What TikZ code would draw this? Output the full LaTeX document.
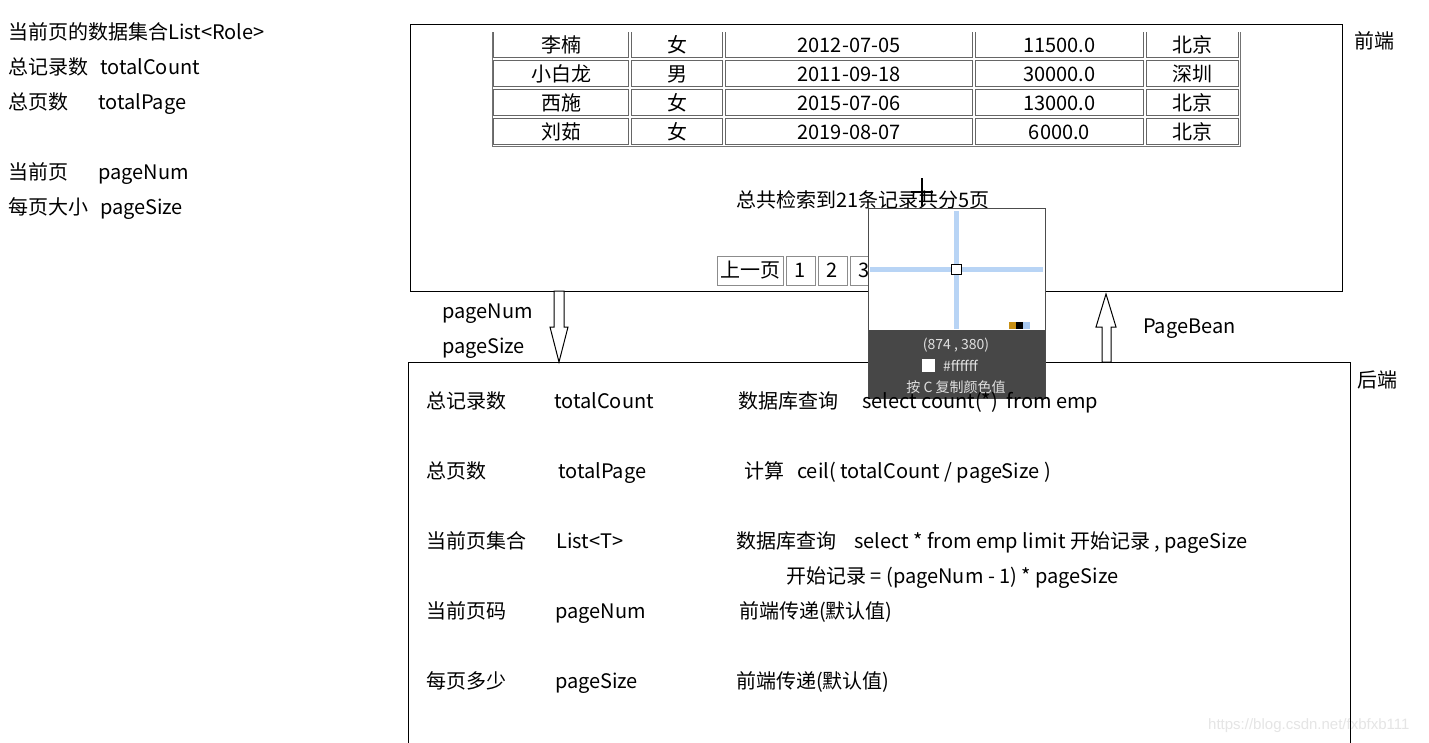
\documentclass[tikz,border=0pt]{standalone}
\usepackage{fontspec}
\newfontfamily\cjk{Noto Sans CJK SC}
\newfontfamily\wmfont{Liberation Sans}
\begin{document}
\begin{tikzpicture}[x=1pt,y=-1pt,
  txt/.style={anchor=base west, inner sep=0pt, font=\cjk\fontsize{20}{22}\selectfont},
  ctxt/.style={anchor=base, inner sep=0pt, font=\cjk\fontsize{20}{22}\selectfont},
  cellbox/.style={draw=black!60, line width=1pt},
  btn/.style={draw=black!45, line width=0.8pt, fill=white},
  blockarrow/.style={draw=black, line width=1pt, fill=white},
  ovtxt/.style={anchor=base, inner sep=0pt, text=black!12, font=\cjk\fontsize{14}{16}\selectfont}]
\useasboundingbox (0,0) rectangle (1429,742);
\clip (0,0) rectangle (1429,742);
\fill[white] (0,0) rectangle (1429,742);

% ---------- left notes ----------
\node[txt] (l1) at (8,39) {当前页的数据集合List<Role>};
\node[txt] (l2a) at (8,74) {总记录数};
\node[txt] (l2b) at (100,74) {totalCount};
\node[txt] (l3a) at (8,109) {总页数};
\node[txt] (l3b) at (98,109) {totalPage};
\node[txt] (l4a) at (8,179) {当前页};
\node[txt] (l4b) at (98,179) {pageNum};
\node[txt] (l5a) at (8,214) {每页大小};
\node[txt] (l5b) at (100,214) {pageSize};

% ---------- front box ----------
\node[draw, line width=1pt, minimum width=932pt, minimum height=267pt, anchor=north west, inner sep=0pt] (front) at (410,24) {};
\node[txt] (frontlbl) at (1354,48) {前端};

% table (scrolled: top row cut)
\begin{scope}
\clip (480,32) rectangle (1250,150);
\foreach \ya/\yb in {20/59, 59/88, 88/117, 117/146}{
  \foreach \xa/\xb in {492/630, 630/724, 724/974, 974/1145, 1145/1240}{
    \draw[cellbox] (\xa+1.5,\ya+1.5) rectangle (\xb-1.5,\yb-1.5);
  }
}
\draw[draw=black!55, line width=1pt] (492,20) rectangle (1240,146);
\end{scope}
\node[ctxt] (c11) at (561,52) {李楠};
\node[ctxt] (c12) at (677,52) {女};
\node[ctxt] (c13) at (849,52) {2012-07-05};
\node[ctxt] (c14) at (1059.5,52) {11500.0};
\node[ctxt] (c15) at (1192.5,52) {北京};
\node[ctxt] (c21) at (561,81) {小白龙};
\node[ctxt] (c22) at (677,81) {男};
\node[ctxt] (c23) at (849,81) {2011-09-18};
\node[ctxt] (c24) at (1059.5,81) {30000.0};
\node[ctxt] (c25) at (1192.5,81) {深圳};
\node[ctxt] (c31) at (561,110) {西施};
\node[ctxt] (c32) at (677,110) {女};
\node[ctxt] (c33) at (849,110) {2015-07-06};
\node[ctxt] (c34) at (1059.5,110) {13000.0};
\node[ctxt] (c35) at (1192.5,110) {北京};
\node[ctxt] (c41) at (561,139) {刘茹};
\node[ctxt] (c42) at (677,139) {女};
\node[ctxt] (c43) at (849,139) {2019-08-07};
\node[ctxt] (c44) at (1059.5,139) {6000.0};
\node[ctxt] (c45) at (1192.5,139) {北京};

\node[txt] (summary) at (736,207) {总共检索到21条记录共分5页};

% pagination
\draw[btn] (717,256) rectangle (783,285);
\draw[btn] (786,256) rectangle (815,285);
\draw[btn] (818,256) rectangle (847,285);
\draw[btn] (850,256) rectangle (879,285);
\node[ctxt] (prev) at (750,277) {上一页};
\node[ctxt] (p1) at (800.5,277) {1};
\node[ctxt] (p2) at (832.5,277) {2};
\node[ctxt] (p3) at (864.5,277) {3};

% ---------- arrows ----------
\draw[blockarrow] (554,291) -- (564,291) -- (564,327) -- (568,327) -- (559,362) -- (550,327) -- (554,327) -- cycle;
\draw[blockarrow] (1102,362) -- (1111,362) -- (1111,327) -- (1116,327) -- (1106,294) -- (1096,327) -- (1102,327) -- cycle;
\node[txt] (a1) at (442,318) {pageNum};
\node[txt] (a2) at (442,353) {pageSize};
\node[txt] (a3) at (1143,333) {PageBean};

% ---------- back box ----------
\coordinate (bl) at (408,762);
\coordinate (br) at (1350,762);
\draw[line width=1pt] (bl) -- (408,362) coordinate (btl) -- (1350,362) coordinate (btr) -- (br);
\node[txt] (backlbl) at (1357,387) {后端};

% cursor cross
\draw[line width=1.6pt] (922,178) -- (922,206);
\draw[line width=1.6pt] (911,192) -- (933,192);

% ---------- colour-picker overlay ----------
\fill[white] (868,208) rectangle (1045,330);
\fill[black!72] (868,330) rectangle (1045,398);
\draw[black!70, line width=0.8pt] (868,208) rectangle (1045,398);
\draw[color={rgb,255:red,184;green,212;blue,245}, line width=5pt] (956,211) -- (956,329);
\draw[color={rgb,255:red,184;green,212;blue,245}, line width=5pt] (870,269) -- (1043,269);
\draw[fill=white, draw=black, line width=1pt] (951,264) rectangle (961,274);
\fill[color={rgb,255:red,200;green,144;blue,20}] (1009,322) rectangle (1016,329);
\fill[black] (1016,322) rectangle (1023,329);
\fill[color={rgb,255:red,168;green,200;blue,240}] (1023,322) rectangle (1030,329);
\node[ovtxt] (ov1) at (956,349) {(874 , 380)};
\fill[white] (922,359) rectangle (935,372);
\node[ovtxt, anchor=base west] (ov2) at (943,371) {\#ffffff};
\node[ovtxt] (ov3) at (956,392) {按 C 复制颜色值};

% ---------- back-end rows ----------
\node[txt] (r1a) at (426,408) {总记录数};
\node[txt] (r1b) at (554,408) {totalCount};
\node[txt] (r1c) at (738,408) {数据库查询};
\node[txt] (r1d) at (862,408) {select count(*)\ \ from emp};

\node[txt] (r2a) at (426,478) {总页数};
\node[txt] (r2b) at (558,478) {totalPage};
\node[txt] (r2c) at (744,478) {计算};
\node[txt] (r2d) at (797,478) {ceil( totalCount / pageSize )};

\node[txt] (r3a) at (426,548) {当前页集合};
\node[txt] (r3b) at (556,548) {List<T>};
\node[txt] (r3c) at (736,548) {数据库查询};
\node[txt] (r3d) at (854,548) {select * from emp limit 开始记录 , pageSize};
\node[txt] (r3e) at (786,583) {开始记录 = (pageNum - 1) * pageSize};

\node[txt] (r4a) at (426,618) {当前页码};
\node[txt] (r4b) at (555,618) {pageNum};
\node[txt] (r4c) at (739,618) {前端传递(默认值)};

\node[txt] (r5a) at (426,688) {每页多少};
\node[txt] (r5b) at (555,688) {pageSize};
\node[txt] (r5c) at (736,688) {前端传递(默认值)};

% watermark
\node[anchor=base west, inner sep=0pt, text=black!10, font=\wmfont\fontsize{15}{17}\selectfont] (wm) at (1208,729) {https://blog.csdn.net/fxbfxb111};
\draw[line width=1pt] (1350,700) -- (br);
\end{tikzpicture}
\end{document}
